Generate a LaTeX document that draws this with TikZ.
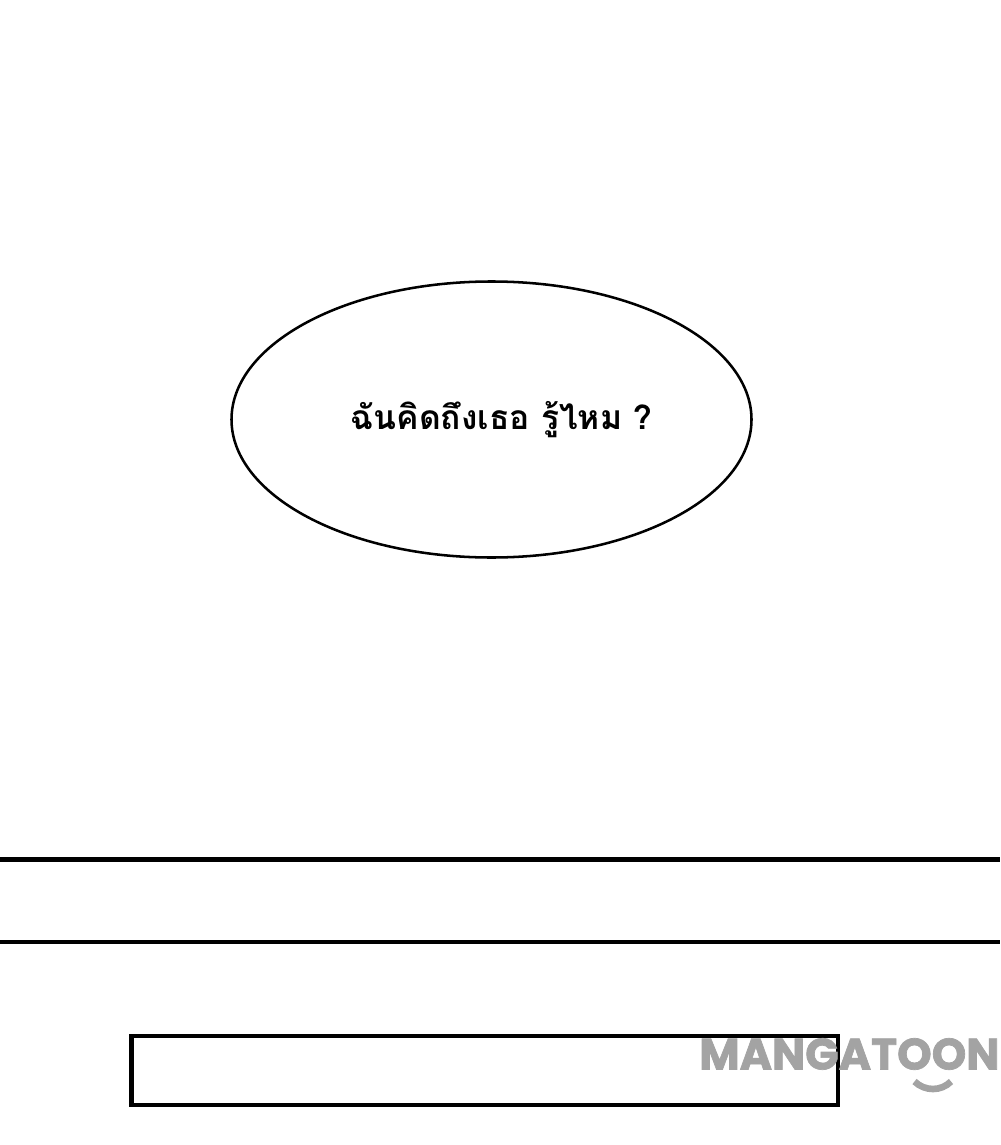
\documentclass[tikz,border=0pt]{standalone}
\usepackage{fontspec}
\usetikzlibrary{shapes.geometric}
\newfontfamily\thaifont[Script=Thai]{Loma}
\newfontfamily\wmfont[FakeBold=1.6]{Poppins Bold}
\setmainfont{Liberation Sans}
\newlength{\pxu}
\setlength{\pxu}{0.75pt}
\definecolor{wmgray}{gray}{0.64}
\tikzset{
  bubble/.style={draw=black,ellipse,line width=1.9pt,minimum width=520\pxu,minimum height=276\pxu,inner sep=0pt},
  rule/.style={draw=black,line width=3.4pt},
  wbox/.style={draw=black,line width=3.4pt},
  wm/.style={text=wmgray,font=\fontsize{33pt}{36pt}\selectfont\wmfont,anchor=base west,inner sep=0pt}
}
\begin{document}
\begin{tikzpicture}[x=0.75pt,y=-0.75pt]
\useasboundingbox (0,0) rectangle (1000,1145);
\fill[white] (0,0) rectangle (1000,1145);
\node[bubble] (b) at (491.5,419.5) {};
\node[inner sep=0pt,font=\fontsize{25.2pt}{28pt}\selectfont\bfseries\thaifont] (t) at (501.5,420) {ฉันคิดถึงเธอ รู้ไหม ?};
\coordinate (l1a) at (0,859.5); \coordinate (l1b) at (1000,859.5);
\coordinate (l2a) at (0,942); \coordinate (l2b) at (1000,942);
\draw[rule] (l1a) -- (l1b);
\draw[rule] (l2a) -- (l2b);
\draw[wbox] (131.5,1036) rectangle (838,1105);
\node[wm] (w) at (699,1069.5) {MANGATOON};
\coordinate (sa) at (914.5,1081.5); \coordinate (sb) at (951,1081.5);
\draw[wmgray,line width=5pt] (sa) .. controls (925,1091.5) and (941,1091.5) .. (sb);
\end{tikzpicture}
\end{document}
